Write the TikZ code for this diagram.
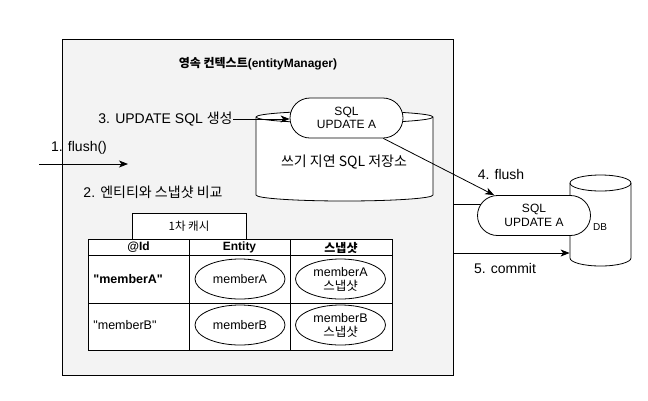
\documentclass[tikz,border=0pt]{standalone}
\usepackage{fontspec}
\setmainfont{Liberation Sans}[Ligatures=TeXOff]
\newfontfamily\kr{Noto Sans CJK KR}
\usetikzlibrary{arrows.meta,shadows,calc,shapes.geometric}
\definecolor{pcfill}{RGB}{243,243,243}
\begin{document}
\begin{tikzpicture}[x=1pt,y=-1pt,
  line width=0.8pt,
  lbl/.style={font=\fontsize{14}{16}\selectfont, inner sep=0pt},
  arr/.style={-{Stealth[length=9pt,width=7pt,inset=2.5pt]}},
  stad/.style={draw, fill=white, rounded corners=20pt, minimum width=113pt, minimum height=40pt,
    align=center, font=\fontsize{12}{13.5}\selectfont, inner sep=0pt},
  ell/.style={draw, ellipse, minimum width=90pt, minimum height=40pt, inner sep=0pt,
    align=center, font=\fontsize{12.5}{14}\selectfont},
  hdr/.style={font=\bfseries\fontsize{12}{14}\selectfont, inner sep=0pt},
  cell/.style={font=\fontsize{12.5}{14}\selectfont, inner sep=0pt, anchor=west},
  pcbox/.style={draw, fill=pcfill, minimum width=391pt, minimum height=336pt, inner sep=0pt,
    drop shadow={shadow xshift=1.2pt, shadow yshift=-1.2pt, opacity=0.35, fill=black}}
]
\useasboundingbox (0,0) rectangle (648,400);

% persistence context box
\node[pcbox] (pc) at (257.5,207) {};
\node[font=\bfseries\fontsize{12}{14}\selectfont] (title) at (258,64) {{\kr 영속 컨텍스트}(entityManager)};

% write-behind store cylinder
\draw[fill=white] (256,117) -- (256,195) arc[start angle=180,end angle=0,x radius=88.5,y radius=6]
  -- (433,117) arc[start angle=0,end angle=-180,x radius=88.5,y radius=6] -- cycle;
\draw (256,117) arc[start angle=180,end angle=0,x radius=88.5,y radius=6];
\node[font=\kr\fontsize{14}{16}\selectfont, inner sep=0pt] (store) at (344,162) {쓰기 지연 SQL 저장소};
\node[stad] (s1) at (346.5,118) {SQL\\UPDATE A};

% step 3
\node[lbl, anchor=east] (t3) at (233,119) {3. UPDATE SQL {\kr 생성}};
\draw[arr] (t3.east) -- (t3.east -| s1.west);

% step 1
\coordinate (f1a) at (39,164);
\coordinate (f1b) at (128,164);
\draw[arr] (f1a) -- (f1b);
\node[lbl] (t1) at (79,148) {1. flush()};

% step 2
\node[lbl] (t2) at (153,192) {2. {\kr 엔티티와 스냅샷 비교}};

% first-level cache
\node[draw, fill=white, minimum width=114pt, minimum height=26pt, inner sep=0pt,
  font=\kr\fontsize{11.5}{13}\selectfont] (tab) at (189,226) {1차 캐시};
\draw[fill=white] (88,239) rectangle (392,350);
\draw (88,255) -- (392,255);
\draw (88,303) -- (392,303);
\draw (189,239) -- (189,350);
\draw (290,239) -- (290,350);
\node[hdr] (h1) at (138.5,247.5) {@Id};
\node[hdr] (h2) at (239.5,247.5) {Entity};
\node[hdr, font=\kr\bfseries\fontsize{12}{14}\selectfont] (h3) at (341,247.5) {스냅샷};
\node[cell, font=\bfseries\fontsize{12.5}{14}\selectfont] (r1) at (93,279) {"memberA"};
\node[cell] (r2) at (93,325) {"memberB"};
\node[ell] (e1) at (240,279) {memberA};
\node[ell] (e2) at (240,325) {memberB};
\node[ell] (n1) at (340.5,279) {memberA\\{\kr 스냅샷}};
\node[ell] (n2) at (340.5,325) {memberB\\{\kr 스냅샷}};

% DB cylinder
\node[minimum width=61pt, minimum height=75pt, inner sep=0pt] (dbn) at (600.5,220.5) {};
\draw[fill=white] (570,183) -- (570,258) arc[start angle=180,end angle=0,x radius=30.5,y radius=8]
  -- (631,183) arc[start angle=0,end angle=-180,x radius=30.5,y radius=8] -- cycle;
\draw (570,183) arc[start angle=180,end angle=0,x radius=30.5,y radius=8];
\node[font=\fontsize{10}{12}\selectfont, inner sep=0pt] (db) at (600,227) {DB};

% SQL on the way to DB
\node[stad] (s2) at (534,215.5) {SQL\\UPDATE A};
\draw (pc.east |- 0,204) -- ($(s2.west)+(3.6,-11.5)$);

% step 4
\draw[arr] ($(s1.south east)+(-20,0)$) -- ($(s2.north west)+(17,0)$);
\node[lbl] (t4) at (501,174) {4. flush};

% step 5
\draw[arr] (pc.east |- 0,253) -- (dbn.west |- 0,253);
\node[lbl] (t5) at (505,268) {5. commit};
\end{tikzpicture}
\end{document}
